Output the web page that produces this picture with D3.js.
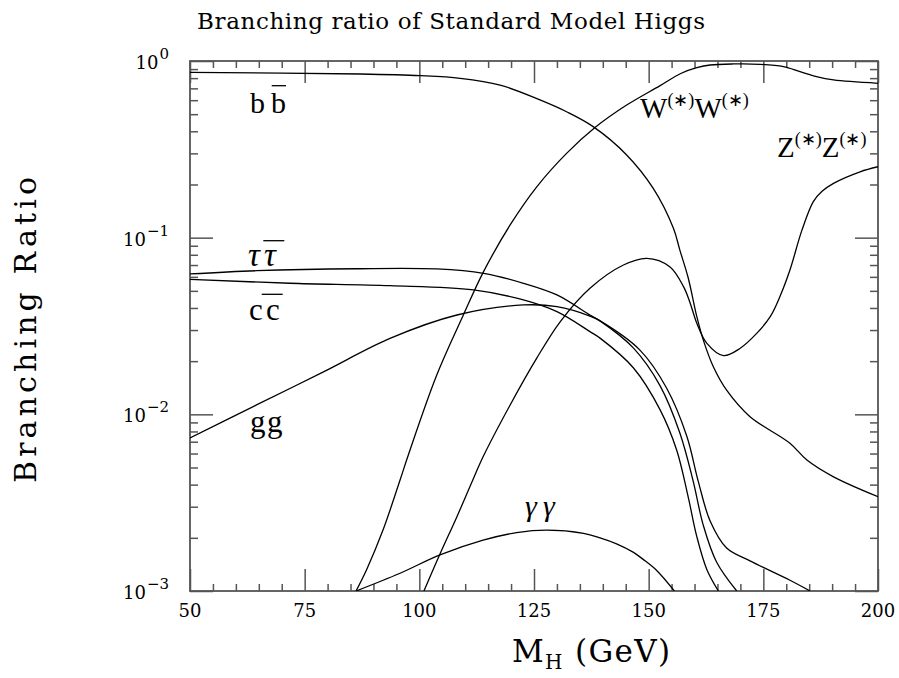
<!DOCTYPE html>
<html>
<head>
<meta charset="utf-8">
<script src="https://cdn.jsdelivr.net/npm/d3@7"></script>
<style>
  html, body { margin: 0; padding: 0; background: #fff; }
  svg { display: block; }
</style>
</head>
<body>
<svg id="chart" width="899" height="678"></svg>
<script>
// ---------------- data ----------------
const massTicks = [50, 75, 100, 125, 150, 175, 200];
const brTicks = [1e-3, 1e-2, 1e-1, 1];
const brTickExponents = ["−3", "−2", "−1", "0"];

const bbMass = [50, 87.1, 100.2, 108.9, 117.6, 126.3, 132.1, 137.9, 145.2, 151.0, 155.4, 156.8, 158.6, 160.5, 161.9, 164.1, 167.0, 172.1, 180.8, 184.5, 190.3, 200];
const bbBR   = [0.863, 0.844, 0.826, 0.798, 0.731, 0.602, 0.516, 0.425, 0.294, 0.190, 0.113, 0.085, 0.0595, 0.0357, 0.0264, 0.0186, 0.0137, 0.0097, 0.00686, 0.00551, 0.00443, 0.00342];

const wwMass = [86.2, 88.5, 92.1, 95.8, 97.6, 103.8, 109.6, 114.0, 119.8, 125.6, 132.1, 138.3, 145.2, 152.5, 157.0, 160.5, 163.4, 168.5, 174.3, 179.4, 183.0, 186.6, 190.3, 200];
const wwBR   = [0.001, 0.00132, 0.00222, 0.00425, 0.00589, 0.0167, 0.0365, 0.0642, 0.118, 0.194, 0.300, 0.420, 0.563, 0.725, 0.85, 0.916, 0.949, 0.962, 0.958, 0.929, 0.870, 0.815, 0.781, 0.748];

const zzMass = [101, 104.5, 108.1, 111.4, 113.9, 119.8, 125.6, 130.7, 137.2, 144.5, 149.6, 154.6, 157.6, 159.0, 160.5, 162.7, 166.3, 169.9, 173.6, 176.5, 178.6, 180.8, 183.4, 185.9, 187.8, 190.3, 196.1, 200];
const zzBR   = [0.001, 0.00162, 0.00260, 0.00410, 0.00575, 0.0113, 0.0208, 0.0334, 0.0517, 0.070, 0.0764, 0.0685, 0.0528, 0.043, 0.0328, 0.0252, 0.0215, 0.0236, 0.0288, 0.0357, 0.0463, 0.0656, 0.110, 0.160, 0.183, 0.203, 0.236, 0.252];

const tautauMass = [50, 64.5, 86.3, 103.8, 114.0, 122.7, 130.0, 137.2, 139.4, 146.7, 152.5, 156.8, 159.7, 161.9, 164.8, 169.2];
const tautauBR   = [0.0623, 0.0650, 0.0667, 0.0665, 0.0628, 0.0552, 0.0474, 0.0365, 0.0338, 0.0237, 0.0145, 0.00784, 0.00419, 0.00236, 0.00146, 0.001];

const ccMass = [50, 71.8, 93.6, 111.8, 122.7, 130.0, 137.2, 139.4, 146.7, 152.5, 156.1, 158.6, 160.5, 162.7, 165.2];
const ccBR   = [0.0581, 0.0552, 0.0535, 0.0506, 0.0444, 0.0381, 0.0294, 0.0270, 0.0183, 0.0106, 0.00628, 0.00342, 0.00203, 0.00132, 0.001];

const ggMass = [50, 64.5, 79.1, 93.6, 108.2, 122.7, 130.0, 137.2, 139.4, 148.1, 153.9, 158.3, 160.8, 163.4, 167.0, 172.1, 180.8, 185.2];
const ggBR   = [0.00735, 0.0113, 0.0174, 0.0269, 0.0365, 0.0416, 0.0407, 0.0360, 0.0338, 0.0231, 0.0141, 0.00754, 0.00419, 0.00249, 0.00175, 0.00148, 0.00115, 0.001];

const gagaMass = [86.2, 95.8, 104.5, 113.9, 121.2, 127.8, 135.8, 139.4, 143.0, 146.6, 148.8, 151.7, 155.6];
const gagaBR   = [0.001, 0.00126, 0.0016, 0.00194, 0.00214, 0.00221, 0.00212, 0.00200, 0.00185, 0.00166, 0.00151, 0.00131, 0.001];

const channels = [
  [bbMass, bbBR], [wwMass, wwBR], [zzMass, zzBR], [tautauMass, tautauBR],
  [ccMass, ccBR], [ggMass, ggBR], [gagaMass, gagaBR]
];

// ---------------- layout ----------------
const L = 190, R = 878, T = 61, B = 591;
const svg = d3.select("#chart");
const x = d3.scaleLinear().domain([50, 200]).range([L, R]);
const y = d3.scaleLog().domain([1e-3, 1]).range([B, T]);

const axisColor = "#555";
const serif = "'Liberation Serif', 'Times New Roman', serif";
const dserif = "'DejaVu Serif', serif";

const minorX = d3.range(50, 201, 5).filter(v => v % 25 !== 0);
const minorY = [];
[-3, -2, -1].forEach(k => { for (let m = 2; m <= 9; m++) minorY.push(m * Math.pow(10, k)); });

function styleAxis(g) {
  g.select(".domain").remove();
  g.selectAll(".tick line").attr("stroke", axisColor).attr("stroke-width", 1.5);
  g.selectAll(".tick text").remove();
}

// ticks (all pointing inward)
svg.append("g").attr("transform", `translate(0,${B})`)
  .call(d3.axisBottom(x).tickValues(massTicks).tickSize(-22)).call(styleAxis);
svg.append("g").attr("transform", `translate(0,${B})`)
  .call(d3.axisBottom(x).tickValues(minorX).tickSize(-7)).call(styleAxis);
svg.append("g").attr("transform", `translate(0,${T})`)
  .call(d3.axisTop(x).tickValues(massTicks).tickSize(-22)).call(styleAxis);
svg.append("g").attr("transform", `translate(0,${T})`)
  .call(d3.axisTop(x).tickValues(minorX).tickSize(-7)).call(styleAxis);
svg.append("g").attr("transform", `translate(${L},0)`)
  .call(d3.axisLeft(y).tickValues(brTicks).tickSize(-23)).call(styleAxis);
svg.append("g").attr("transform", `translate(${L},0)`)
  .call(d3.axisLeft(y).tickValues(minorY).tickSize(-8)).call(styleAxis);
svg.append("g").attr("transform", `translate(${R},0)`)
  .call(d3.axisRight(y).tickValues(brTicks).tickSize(-23)).call(styleAxis);
svg.append("g").attr("transform", `translate(${R},0)`)
  .call(d3.axisRight(y).tickValues(minorY).tickSize(-8)).call(styleAxis);

// frame
svg.append("rect").attr("x", L).attr("y", T).attr("width", R - L).attr("height", B - T)
  .attr("fill", "none").attr("stroke", axisColor).attr("stroke-width", 1.8);

// tick labels
svg.append("g").selectAll("text").data(massTicks).join("text")
  .attr("x", d => x(d)).attr("y", B + 26)
  .attr("text-anchor", "middle").attr("font-family", dserif).attr("font-size", 18)
  .attr("fill", "#000").text(d => d);

const yl = svg.append("g").selectAll("text").data(brTicks).join("text")
  .attr("x", 169).attr("y", d => y(d) + 8)
  .attr("text-anchor", "end").attr("font-family", dserif).attr("font-size", 18).attr("fill", "#000");
yl.append("tspan").text("10");
yl.append("tspan").attr("dy", -10).attr("dx", 1).attr("font-size", 15)
  .text((d, i) => brTickExponents[i]);

// curves
svg.append("clipPath").attr("id", "plotclip").append("rect")
  .attr("x", L).attr("y", T).attr("width", R - L).attr("height", B - T);
const line = d3.line().x(d => x(d[0])).y(d => y(d[1])).curve(d3.curveCatmullRom.alpha(0.5));
svg.append("g").attr("clip-path", "url(#plotclip)").selectAll("path")
  .data(channels.map(([m, b]) => m.map((v, i) => [v, b[i]])))
  .join("path")
  .attr("d", line).attr("fill", "none").attr("stroke", "#000").attr("stroke-width", 1.3);

// titles
svg.append("text").attr("x", 197).attr("y", 29)
  .attr("font-family", dserif).attr("font-size", 23)
  .attr("textLength", 508).attr("lengthAdjust", "spacing")
  .text("Branching ratio of Standard Model Higgs");

svg.append("text").attr("transform", "translate(36,330) rotate(-90)")
  .attr("text-anchor", "middle").attr("font-family", dserif).attr("font-size", 30)
  .attr("textLength", 306).attr("lengthAdjust", "spacing")
  .text("Branching Ratio");

const xt = svg.append("text").attr("x", 512).attr("y", 662)
  .attr("font-family", dserif).attr("font-size", 31)
  .attr("textLength", 158).attr("lengthAdjust", "spacing");
xt.append("tspan").text("M");
xt.append("tspan").attr("dy", 7).attr("font-size", 20).text("H");
xt.append("tspan").attr("dy", -7).text(" (GeV)");

// channel labels
const lab = svg.append("g").attr("font-family", serif).attr("fill", "#000");
function pair(str, x0, x1, yb, size, italic) {
  const t1 = lab.append("text").attr("x", x0).attr("y", yb).attr("font-size", size).text(str);
  const t2 = lab.append("text").attr("x", x1).attr("y", yb).attr("font-size", size).text(str);
  if (italic) { t1.attr("font-style", "italic"); t2.attr("font-style", "italic"); }
}
pair("b", 250, 271, 112.5, 30, false);
pair("τ", 248, 264, 266, 33, true);
pair("c", 249, 266, 319.5, 31, false);
pair("g", 250, 267, 432, 31, false);
pair("γ", 525, 543, 516, 30, true);

const bars = [[271.7, 286, 85.7], [263.3, 284.3, 240.7], [261.7, 282.7, 294.3]];
lab.selectAll("line.bar").data(bars).join("line").attr("class", "bar")
  .attr("x1", d => d[0]).attr("x2", d => d[1]).attr("y1", d => d[2]).attr("y2", d => d[2])
  .attr("stroke", "#000").attr("stroke-width", 1.3);

function boson(letter, x0, yb) {
  const t = lab.append("text").attr("x", x0).attr("y", yb).attr("font-size", 29);
  t.append("tspan").text(letter);
  t.append("tspan").attr("dy", -12).attr("font-size", 18).text("(∗)");
  t.append("tspan").attr("dy", 12).text(letter);
  t.append("tspan").attr("dy", -12).attr("font-size", 18).text("(∗)");
}
boson("W", 640, 118);
boson("Z", 777, 157);
</script>
</body>
</html>
